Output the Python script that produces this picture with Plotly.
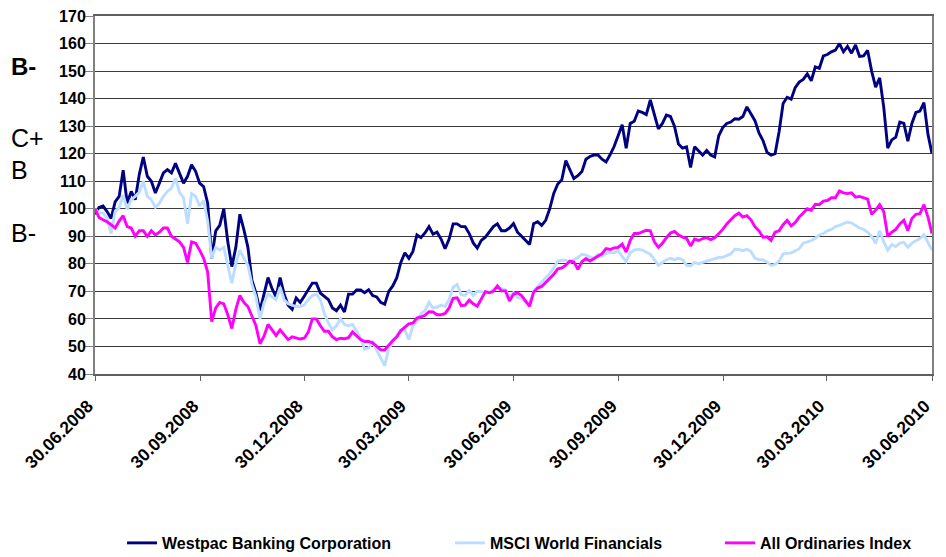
import pandas as pd
import plotly.graph_objects as go

# ---- data (index values, read approx. every 3.5 days) ----
start_date = "2008-06-30"
end_date = "2010-06-30"
n_points = 209

westpac = [
    98, 100.5, 101, 99, 96.5, 102.5, 104.5, 114, 102, 106.3,
    103.3, 112.4, 118.8, 111.8, 110, 105.7, 109.3, 113, 114.2, 113,
    116.5, 113, 109.3, 111.8, 116, 113.6, 109.3, 108, 102, 82,
    92, 94, 100, 88, 79, 86, 98, 92.4, 86, 74,
    69.4, 63, 69, 75, 71, 68, 75, 69, 65, 63.5,
    67.6, 66, 68.2, 70.6, 73, 73, 69.4, 68.2, 67, 64,
    63, 65, 62.5, 69, 69, 70.5, 70.5, 69.5, 70.6, 68.5,
    68, 66, 65.3, 70, 72, 75, 80.5, 84, 82, 84.5,
    90.5, 89.5, 91.2, 93.5, 90.8, 91.5, 89, 85.5, 89, 94.5,
    94.5, 93.5, 93.5, 91, 87.6, 85.7, 88.5, 89.7, 91.5, 93.5,
    94.5, 92, 92, 93, 94.6, 91.5, 90, 88.5, 87, 94.6,
    95.3, 94, 95.8, 100, 105.6, 109, 110.5, 117.5, 114.5, 111,
    112, 113.5, 118, 119, 119.5, 119.5, 118, 117, 119.6, 122.6,
    126.5, 130.5, 122, 131, 131.8, 135.5, 135, 134.2, 139.5, 134,
    129, 131, 134, 133.5, 130, 123.5, 122, 122.5, 115, 122.5,
    121, 119.5, 121.2, 119.5, 118.8, 126.5, 129.5, 131, 131.5, 132.7,
    132.5, 133.5, 137, 134.5, 132, 127.5, 124.8, 120.5, 119.5, 120,
    128, 138.2, 140.5, 139.8, 144, 146, 147, 149, 146.5, 151.5,
    151, 155.5, 156, 157, 157.6, 160, 157, 159, 156.5, 159.5,
    155.3, 155.5, 157.5, 150, 144.2, 147.5, 137, 122, 125, 126,
    131.5, 131, 124.5, 131, 135, 135.5, 138.5, 127, 120,
]

msci = [
    100, 98.5, 98.5, 96.5, 91, 99, 100.5, 105, 99.7, 103.3,
    104.5, 106, 110, 104.5, 103.3, 100.5, 102, 104.5, 106.3, 107.5,
    111, 106, 104, 94.5, 105.5, 104.5, 101, 103, 95.5, 82,
    86, 85, 86, 80, 73, 80, 85, 82, 79.5, 72.5,
    68, 60, 65.8, 69, 68, 67, 71.5, 67, 65.5, 65,
    64.5, 64.5, 65, 67, 68.5, 69, 67, 62, 58.5, 56,
    57.5, 60, 58, 57.5, 58, 55.5, 53, 49, 49.5, 51.5,
    48.5, 45.5, 43, 49.5, 51, 54, 56, 56, 52.5, 57.5,
    59, 62, 63, 66, 64, 64.3, 65, 64.5, 67, 71.5,
    72.5, 68.8, 68.5, 70.3, 68.5, 70, 69.8, 69.8, 69.5, 70.8,
    71.5, 71, 70.5, 68, 69.5, 67.8, 67.5, 66, 65.5, 70,
    71.8, 73.5, 75, 76.5, 78.5, 81, 81.3, 81.3, 80.5, 81.5,
    82.3, 83.5, 83.2, 82.5, 82, 83.5, 82.7, 83.7, 84.2, 84,
    84.7, 82.7, 80.8, 84, 85, 85.3, 85, 84.2, 83.5, 81.5,
    79.5, 80.5, 81.5, 82, 81.5, 82, 81.5, 79.5, 79.2, 80.5,
    80, 80.5, 81, 81.5, 82, 82.3, 82.4, 83, 83.6, 85.3,
    85.2, 84.8, 85.3, 84.5, 82, 81.5, 81.5, 80.6, 79.4, 79.8,
    81, 83.6, 83.8, 84, 84.7, 85.5, 87.5, 88, 88.4, 89.3,
    90.5, 91, 92, 92.5, 93.5, 94, 94.5, 95.2, 94.8, 93.8,
    93, 92.5, 91.5, 90, 87.5, 92, 88, 85, 87, 86.3,
    87.5, 87.8, 86, 87.5, 88.3, 89.2, 90.5, 87.8, 85,
]

all_ords = [
    100, 96.8, 96, 95.3, 94.2, 93, 95.5, 97.5, 93.5, 93,
    90, 92, 92, 90, 92, 90.5, 91.5, 93, 93, 90,
    89, 88, 86, 80.5, 88, 87.5, 85, 82, 77, 59,
    64, 66, 65.5, 61.5, 56.5, 63.5, 68.5, 66, 64.5, 61,
    57.5, 51, 53.7, 58, 56, 54, 56, 54.3, 52.5, 53.5,
    53, 52.7, 53, 55.2, 60, 60, 57.5, 55.5, 55.5, 53.5,
    52.5, 53, 52.8, 53.2, 55.3, 54, 52.5, 51.8, 51.8, 51.3,
    50, 48.8, 48.7, 50.5, 52.2, 53.5, 55.7, 57, 58.2, 58.5,
    60.3, 60.7, 61.3, 62.6, 62.5, 61.5, 61.5, 62, 64, 67.5,
    67.7, 64.8, 65, 66.8, 65.5, 64.6, 67.5, 69.9, 69.5, 70,
    72, 70.2, 70.2, 66.5, 69, 69.5, 68.5, 66.7, 64.6, 69.7,
    71.2, 71.8, 73.3, 75, 76.2, 78.2, 78.5, 79.5, 81, 80.7,
    78, 80.8, 81.9, 81, 82, 83, 83.7, 85.5, 85.2, 85.8,
    86, 87.2, 84.3, 88.5, 91, 91, 91.6, 92.2, 92, 88,
    86, 87.5, 89.5, 91.2, 91.8, 90.5, 89.7, 89.3, 86.5, 89,
    88.5, 89.2, 89.5, 88.8, 89.5, 90.9, 92.5, 94.5, 96, 97.5,
    98.4, 97, 97.5, 96, 93.5, 92, 89.7, 89.8, 88.5, 91.5,
    92, 94.2, 95.8, 93.8, 95, 97, 98.5, 100, 99.5, 101.6,
    101.5, 102.8, 103, 104, 104, 106.5, 105.8, 105.5, 105.8, 104.2,
    104.5, 104, 103.5, 98, 99.5, 101.5, 99, 90, 91.5, 92.5,
    94.5, 95.8, 92, 96.5, 98, 98.2, 101.5, 97, 91,
]

tick_dates = ["2008-06-30", "2008-09-30", "2008-12-30", "2009-03-30", "2009-06-30",
              "2009-09-30", "2009-12-30", "2010-03-30", "2010-06-30"]
tick_labels = ["30.06.2008", "30.09.2008", "30.12.2008", "30.03.2009", "30.06.2009",
               "30.09.2009", "30.12.2009", "30.03.2010", "30.06.2010"]

series_names = ["Westpac Banking Corporation", "MSCI World Financials", "All Ordinaries Index"]
series_colors = ["#000080", "#BBDDFF", "#FF00FF"]

side_labels = ["B-", "C+", "B", "B-"]
side_label_y = [151.8, 125.7, 113.9, 91.2]
side_label_bold = [True, False, False, False]

# ---- figure ----
# The page body has an 8px default margin, so the figure is 8px smaller
# than the window and its margins are reduced accordingly.
dates = pd.date_range(start_date, end_date, periods=n_points)
FONT = "Liberation Sans, Arial, sans-serif"
legend_ids = ["legend", "legend2", "legend3"]
legend_x = [0.0323, 0.4241, 0.7467]

fig = go.Figure()
for name, vals, col, lid in zip(series_names, [westpac, msci, all_ords], series_colors, legend_ids):
    fig.add_trace(go.Scatter(x=dates, y=vals, mode="lines", name=name, legend=lid,
                             line=dict(color=col, width=2.9)))

for txt, yv, b in zip(side_labels, side_label_y, side_label_bold):
    fig.add_annotation(xref="paper", yref="y", x=-0.1027, y=yv, text=f"<b>{txt}</b>" if b else txt,
                       showarrow=False, xanchor="left", yanchor="middle",
                       font=dict(family=FONT, size=24 if b else 25, color="#000000"))

legend_style = dict(orientation="h", xanchor="left", y=-0.472, yanchor="middle",
                    font=dict(family=FONT, size=16, color="#000000", weight="bold"),
                    bgcolor="rgba(0,0,0,0)", itemwidth=30)
fig.update_layout(
    width=938, height=549,
    margin=dict(l=87, r=14, t=8, b=183, autoexpand=False),
    paper_bgcolor="white", plot_bgcolor="white",
    showlegend=True,
    legend=dict(x=legend_x[0], **legend_style),
    legend2=dict(x=legend_x[1], **legend_style),
    legend3=dict(x=legend_x[2], **legend_style),
    font=dict(family=FONT),
)
fig.update_yaxes(range=[40, 170], dtick=10, tick0=40, automargin=False,
                 showgrid=True, gridcolor="#3a3a3a", gridwidth=1,
                 showline=True, linecolor="#808080", linewidth=2, mirror=True,
                 ticks="outside", ticklen=8, tickcolor="#808080",
                 ticklabelstandoff=-4, ticklabeloverflow="allow",
                 tickfont=dict(family=FONT, size=16, color="#000000", weight="bold"),
                 zeroline=False)
fig.update_xaxes(type="date", range=[start_date, end_date], automargin=False,
                 tickvals=tick_dates, ticktext=tick_labels, tickangle=-45,
                 showgrid=False, showline=True, linecolor="#606060", linewidth=2, mirror=True,
                 ticks="outside", ticklen=5, tickcolor="#606060",
                 ticklabelstandoff=8, ticklabelshift=-7, ticklabeloverflow="allow",
                 tickfont=dict(family=FONT, size=17.5, color="#000000", weight="bold"),
                 zeroline=False)

fig.write_html("out.html")
